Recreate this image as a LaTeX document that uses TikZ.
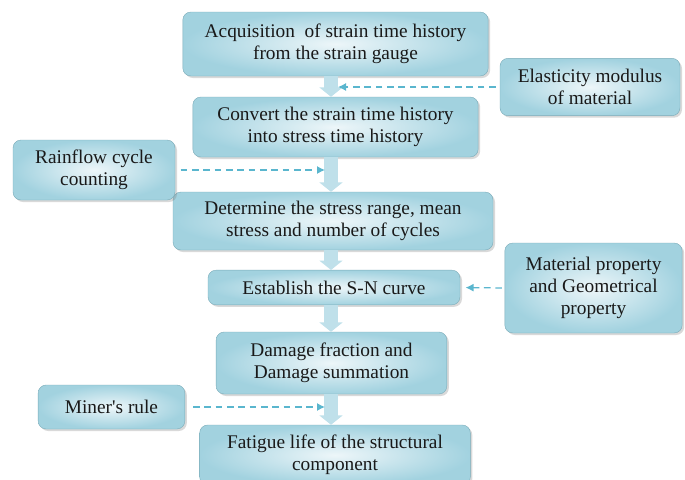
\documentclass[tikz,border=0pt]{standalone}
\usepackage{fontspec}
\setmainfont{Liberation Serif}
\usetikzlibrary{shadows,arrows.meta}
\definecolor{boxedge}{HTML}{8FC9D9}
\definecolor{boxmid}{HTML}{EDF6F9}
\definecolor{dashblue}{HTML}{5AB6CE}
\definecolor{arrowfill}{HTML}{BFE0EA}

\begin{document}
\begin{tikzpicture}
        [x=0.75pt, y=-0.75pt,
         every node/.style={font=\fontsize{14.5}{16.5}\selectfont, align=center, text=black!90},
         stepbox/.style={draw=boxedge!85!black, line width=0.3pt, rounded corners=6pt, inner color=boxmid, outer color=boxedge!80!boxmid,
                         drop shadow={shadow xshift=1.5pt, shadow yshift=-1.5pt, opacity=0.3}},
         flowarrow/.style={arrowfill, line width=10pt, -{Triangle[width=17pt,length=7pt]}},
         dashline/.style={dashblue, line width=0.9pt, dash pattern=on 5pt off 3.5pt, -{Latex[length=6pt,width=6pt]}}]

        \useasboundingbox (0,0) rectangle (685,479);
        \clip (0,0) rectangle (685,479);

        % main steps
        \node[stepbox, minimum width=229pt, minimum height=48pt] (b1) at (335.5,44) {Acquisition \ of strain time history\\from the strain gauge};
        \node[stepbox, minimum width=214pt, minimum height=45pt] (b2) at (335.5,127) {Convert the strain time history\\into stress time history};
        \node[stepbox, minimum width=240pt, minimum height=43.5pt] (b3) at (333,221) {Determine the stress range, mean\\stress and number of cycles};
        \node[stepbox, minimum width=189pt, minimum height=26pt] (b4) at (334,287.5) {Establish the S-N curve};
        \node[stepbox, minimum width=173pt, minimum height=46.5pt] (b5) at (331.5,363) {Damage fraction and\\Damage summation};
        \node[stepbox, minimum width=203pt, minimum height=45pt] (b6) at (335,455) {Fatigue life of the structural\\component};

        % inputs
        \node[stepbox, minimum width=135pt, minimum height=43pt] (elas) at (590,87) {Elasticity modulus\\of material};
        \node[stepbox, minimum width=121.5pt, minimum height=45pt] (rain) at (94,170) {Rainflow cycle\\counting};
        \node[stepbox, minimum width=133pt, minimum height=67.5pt] (mat) at (593.5,288) {Material property\\and Geometrical\\property};
        \node[stepbox, minimum width=110pt, minimum height=33pt] (miner) at (111.5,407) {Miner\textquotesingle s rule};

        \coordinate (spine) at (331,0);
        \coordinate (e1) at (338,87);
        \coordinate (e2) at (325,170);
        \coordinate (e3) at (325,407);

        \draw[flowarrow] (b1.south -| spine) -- (b2.north -| spine);
        \draw[flowarrow] (b2.south -| spine) -- (b3.north -| spine);
        \draw[flowarrow] (b3.south -| spine) -- (b4.north -| spine);
        \draw[flowarrow] (b4.south -| spine) -- (b5.north -| spine);
        \draw[flowarrow] (b5.south -| spine) -- (b6.north -| spine);

        \draw[dashline, shorten <=3pt] (elas.west) -- (e1);
        \draw[dashline, shorten <=4pt] (rain.east) -- (e2);
        \draw[dashline, shorten <=2pt, shorten >=4pt] (mat.west) -- (b4.east);
        \draw[dashline, shorten <=6pt] (miner.east) -- (e3);

      \end{tikzpicture}
\end{document}
